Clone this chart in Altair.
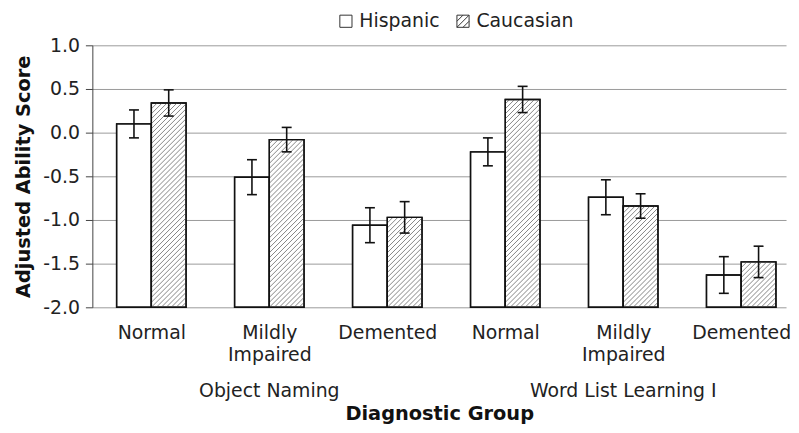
import json
import altair as alt
import pandas as pd

# ---- data ----
groups = ["Normal", "Mildly Impaired", "Demented"]
tests = ["Object Naming", "Word List Learning I"]
ethnicities = ["Hispanic", "Caucasian"]
hispanic = [0.10, -0.51, -1.06, -0.22, -0.74, -1.63]
hispanic_err = [0.16, 0.20, 0.20, 0.16, 0.20, 0.21]
caucasian = [0.34, -0.08, -0.97, 0.38, -0.84, -1.48]
caucasian_err = [0.15, 0.14, 0.18, 0.15, 0.14, 0.18]
yticks = [-2.0, -1.5, -1.0, -0.5, 0.0, 0.5, 1.0]

# ---- layout / style constants ----
W, H = 699, 264
X_MAX = 5.88
Y_MIN, Y_MAX = -2.0, 1.0
PX = W / X_MAX            # px per x unit
PY = H / (Y_MAX - Y_MIN)  # px per y unit
BAR_PX = 35.0
CAP_PX = 5.0
HATCH_PX = 5.0
FONT = "DejaVu Sans"
LBL = 19

rows = []
for ti, t in enumerate(tests):
    for gi, g in enumerate(groups):
        idx = ti * len(groups) + gi
        rows.append(dict(test=t, group=g, eth="Hispanic", idx=idx,
                         value=hispanic[idx], err=hispanic_err[idx]))
        rows.append(dict(test=t, group=g, eth="Caucasian", idx=idx,
                         value=caucasian[idx], err=caucasian_err[idx]))
df = pd.DataFrame(rows)

# x-axis labels: group names, wrapped on spaces
label_lines = [g.split(" ") for _ in tests for g in groups]
x_label_expr = f"{json.dumps(label_lines)}[round(datum.value - 0.5)]"
x_values = [i + 0.5 for i in range(len(label_lines))]

xs = alt.Scale(domain=[0, X_MAX], nice=False, zero=False)
ys = alt.Scale(domain=[Y_MIN, Y_MAX], nice=False, zero=False)

xaxis = alt.Axis(values=x_values, labelExpr=x_label_expr, ticks=False, grid=False,
                 domain=False, labelFont=FONT, labelFontSize=LBL, labelColor="#222",
                 labelLineHeight=23, labelBaseline="top", labelPadding=16,
                 labelOverlap=False, labelFlush=False, labelLimit=400,
                 titleFont=FONT, titleFontSize=19.5, titleFontWeight="bold",
                 titleColor="#111", titleY=107, titleBaseline="middle")
yaxis = alt.Axis(values=yticks,
                 labelExpr="replace(format(datum.value, '.1f'), '\u2212', '-')",
                 grid=True, gridColor="#9a9a9a", gridWidth=1,
                 domainColor="#444", tickColor="#444", tickSize=7,
                 labelPadding=6, labelFont=FONT, labelFontSize=LBL, labelColor="#222",
                 titleFont=FONT, titleFontSize=19.5, titleFontWeight="bold",
                 titleColor="#111", titlePadding=9)

half = BAR_PX / PX / 2
base = alt.Chart(df).transform_calculate(
    c="datum.idx + 0.5",
    x0=f"datum.idx + 0.5 - (datum.eth == 'Hispanic' ? {BAR_PX / PX} : 0)",
    x1=f"datum.idx + 0.5 + (datum.eth == 'Caucasian' ? {BAR_PX / PX} : 0)",
    lo="datum.value - datum.err",
    hi="datum.value + datum.err",
    cm=f"datum.idx + 0.5 + (datum.eth == 'Hispanic' ? -{half} : {half})",
).transform_calculate(
    cl=f"datum.cm - {CAP_PX / PX}",
    cr=f"datum.cm + {CAP_PX / PX}",
)

bars = base.mark_rect(fill="white", stroke="#111", strokeWidth=1.4).encode(
    x=alt.X("x0:Q", scale=xs, axis=xaxis, title="Diagnostic Group"),
    x2="x1:Q",
    y=alt.Y("value:Q", scale=ys, axis=yaxis, title="Adjusted Ability Score"),
    y2=alt.datum(Y_MIN),
)

hatch = (
    base.transform_filter("datum.eth == 'Caucasian'")
    .transform_calculate(k="sequence(1, 90)")
    .transform_flatten(["k"])
    .transform_calculate(
        w=f"{BAR_PX}",
        h=f"(datum.value - ({Y_MIN})) * {PY}",
        b=f"-{BAR_PX} + datum.k * {HATCH_PX}",
    )
    .transform_filter("datum.b < datum.h")
    .transform_calculate(us="max(0, -datum.b)", ue="min(datum.w, datum.h - datum.b)")
    .transform_calculate(
        hx1=f"datum.x0 + datum.us / {PX}",
        hy1=f"{Y_MIN} + (datum.us + datum.b) / {PY}",
        hx2=f"datum.x0 + datum.ue / {PX}",
        hy2=f"{Y_MIN} + (datum.ue + datum.b) / {PY}",
    )
    .mark_rule(stroke="#858585", strokeWidth=1)
    .encode(x=alt.X("hx1:Q", scale=xs), y=alt.Y("hy1:Q", scale=ys), x2="hx2:Q", y2="hy2:Q")
)

outline = base.mark_rect(fillOpacity=0, stroke="#111", strokeWidth=1.4).encode(
    x=alt.X("x0:Q", scale=xs), x2="x1:Q", y=alt.Y("value:Q", scale=ys), y2=alt.datum(Y_MIN)
)

err = base.mark_rule(stroke="#111", strokeWidth=1.6).encode(
    x=alt.X("cm:Q", scale=xs), y=alt.Y("lo:Q", scale=ys), y2="hi:Q"
)
cap_hi = base.mark_rule(stroke="#111", strokeWidth=1.6).encode(
    x=alt.X("cl:Q", scale=xs), x2="cr:Q", y=alt.Y("hi:Q", scale=ys)
)
cap_lo = base.mark_rule(stroke="#111", strokeWidth=1.6).encode(
    x=alt.X("cl:Q", scale=xs), x2="cr:Q", y=alt.Y("lo:Q", scale=ys)
)

# test names centred under their three diagnostic groups, below the axis labels
test_labels = (
    base.transform_aggregate(c="mean(c)", groupby=["test"])
    .mark_text(font=FONT, fontSize=LBL, color="#222", baseline="middle", align="center", dy=84)
    .encode(x=alt.X("c:Q", scale=xs), y=alt.datum(Y_MIN), text="test:N")
)

sq = "M-1,-1H1V1H-1Z"
sq_hatch = "M-1,-1H1V1H-1Z M-1,0L0,-1 M-1,1L1,-1 M0,1L1,0"
legend_layer = base.transform_filter("false").mark_point(
    filled=False, stroke="#222", strokeWidth=1, opacity=1
).encode(
    x=alt.X("c:Q", scale=xs),
    y=alt.Y("value:Q", scale=ys),
    shape=alt.Shape("eth:N", scale=alt.Scale(domain=ethnicities, range=[sq, sq_hatch]),
                    legend=alt.Legend(title=None, orient="none", legendX=246, legendY=-34,
                                      direction="horizontal", padding=0,
                                      labelFont=FONT, labelFontSize=LBL, labelColor="#222",
                                      symbolSize=150, symbolStrokeColor="#333",
                                      symbolStrokeWidth=1, symbolOpacity=1,
                                      labelOffset=4, columnPadding=14)),
)

chart = (
    alt.layer(bars, hatch, outline, err, cap_hi, cap_lo, test_labels, legend_layer)
    .properties(width=W, height=H, padding={"left": 5, "top": 2, "right": 0, "bottom": 0})
    .configure_view(stroke=None)
)

chart.save("out.html", embed_options={"renderer": "svg", "actions": False})
